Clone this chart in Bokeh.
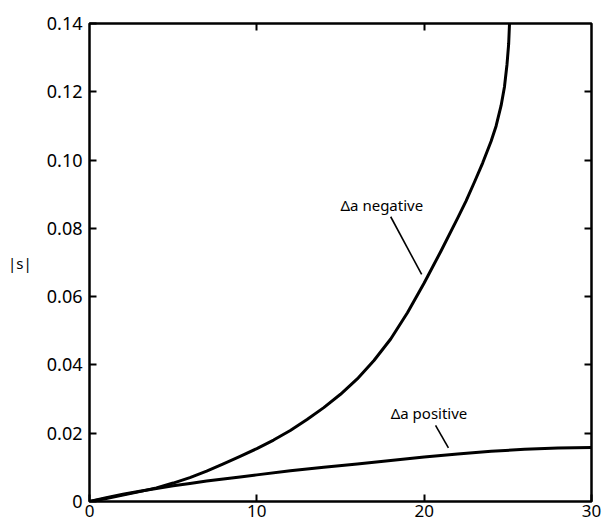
from bokeh.plotting import figure
from bokeh.models import Range1d, FixedTicker, LinearAxis, Label, CustomJSTickFormatter
from bokeh.embed import file_html
from bokeh.resources import INLINE

# Data
x_neg = [0, 1, 2, 3, 4, 5, 6, 7, 8, 9, 10, 11, 12, 13, 14, 15, 16, 17, 18, 19, 20, 21, 22, 22.5, 23, 23.5, 24, 24.3, 24.6, 24.8, 24.95, 25.05, 25.1]
s_neg = [0, 0.0009, 0.0019, 0.0029, 0.0040, 0.0054, 0.0070, 0.0089, 0.0110, 0.0132, 0.0155, 0.0180, 0.0208, 0.0240, 0.0275, 0.0314, 0.0359, 0.0413, 0.0476, 0.0553, 0.0640, 0.0733, 0.0830, 0.0880, 0.0935, 0.0992, 0.1055, 0.1100, 0.1160, 0.1215, 0.1280, 0.1340, 0.1400]
x_pos = [0, 1, 2, 3, 4, 5, 6, 7, 8, 9, 10, 12, 14, 16, 18, 20, 22, 24, 26, 28, 30]
s_pos = [0, 0.0011, 0.0021, 0.0030, 0.0038, 0.0046, 0.0053, 0.0060, 0.0066, 0.0072, 0.0078, 0.0090, 0.0100, 0.0110, 0.0120, 0.0130, 0.0139, 0.0147, 0.0153, 0.0157, 0.0158]

x_ticks = [0, 10, 20, 30]
y_ticks = [0, 0.02, 0.04, 0.06, 0.08, 0.10, 0.12, 0.14]
y_tick_labels = ["0", "0.02", "0.04", "0.06", "0.08", "0.10", "0.12", "0.14"]

FONT = "Noto Sans"

p = figure(width=603, height=525, output_backend="svg", toolbar_location=None,
           x_range=Range1d(0, 30), y_range=Range1d(0, 0.14),
           min_border_left=89, min_border_right=12, min_border_top=23, min_border_bottom=24)
p.xgrid.visible = False
p.ygrid.visible = False
p.outline_line_color = "black"
p.outline_line_width = 2.5
p.background_fill_color = "white"
p.border_fill_color = "white"

p.line(x_neg, s_neg, line_color="black", line_width=3, line_join="round")
p.line(x_pos, s_pos, line_color="black", line_width=3, line_join="round")

# axes
xa = p.xaxis[0]
xa.ticker = FixedTicker(ticks=x_ticks)
xa.axis_line_color = None
xa.major_tick_in = 7
xa.major_tick_out = 0
xa.major_tick_line_width = 2
xa.minor_tick_line_color = None
xa.major_label_standoff = 3
xa.major_label_text_font = FONT
xa.major_label_text_font_size = "17px"
xa.major_label_text_color = "black"

ya = p.yaxis[0]
ya.ticker = FixedTicker(ticks=y_ticks)
ya.formatter = CustomJSTickFormatter(args=dict(vals=y_ticks, labs=y_tick_labels), code="""
for (let i = 0; i < vals.length; i++) { if (Math.abs(tick - vals[i]) < 1e-9) return labs[i]; }
return "";
""")
ya.axis_line_color = None
ya.major_tick_in = 7
ya.major_tick_out = 0
ya.major_tick_line_width = 2
ya.minor_tick_line_color = None
ya.major_label_standoff = 7
ya.major_label_text_font = FONT
ya.major_label_text_font_size = "18px"
ya.major_label_text_color = "black"
ya.axis_label = "|s|"
ya.axis_label_orientation = "horizontal"
ya.axis_label_standoff = 12
ya.axis_label_text_font = FONT
ya.axis_label_text_font_size = "15px"
ya.axis_label_text_font_style = "normal"
ya.axis_label_text_color = "black"

blank = CustomJSTickFormatter(code="return '';")
top = LinearAxis(ticker=FixedTicker(ticks=[10, 20]), formatter=blank, axis_line_color=None,
                 major_tick_in=7, major_tick_out=0, major_tick_line_width=2,
                 minor_tick_line_color=None, major_label_text_font_size="1px", major_label_standoff=0)
right = LinearAxis(ticker=FixedTicker(ticks=y_ticks[1:-1]), formatter=blank, axis_line_color=None,
                   major_tick_in=7, major_tick_out=0, major_tick_line_width=2,
                   minor_tick_line_color=None, major_label_text_font_size="1px", major_label_standoff=0)
p.add_layout(top, "above")
p.add_layout(right, "right")

# annotations
p.add_layout(Label(x=15.0, y=0.0869, text="\u0394a  negative", text_font=FONT, text_font_size="15px",
                   text_baseline="middle", text_align="left", text_color="black"))
p.segment(x0=[18.0], y0=[0.0834], x1=[19.85], y1=[0.0665], line_color="black", line_width=1.6)
p.add_layout(Label(x=18.0, y=0.0258, text="\u0394a positive", text_font=FONT, text_font_size="15px",
                   text_baseline="middle", text_align="left", text_color="black"))
p.segment(x0=[20.68], y0=[0.0223], x1=[21.45], y1=[0.0157], line_color="black", line_width=1.6)

open("out.html", "w").write(file_html(p, INLINE))
